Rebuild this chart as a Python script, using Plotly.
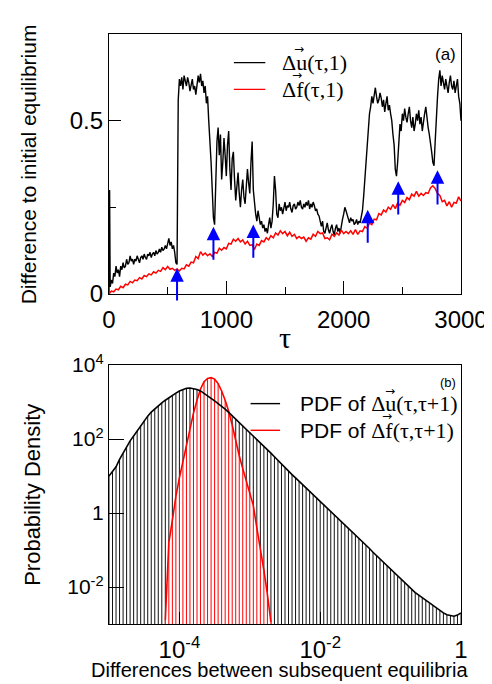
import plotly.graph_objects as go

# ---------------- panel (a) data ----------------
tau_u = [0, 5] + list(range(10, 3001, 10))
du_1 = [0.0, 0.30,
        0.02, 0.04, 0.03, 0.06, 0.05, 0.08, 0.06, 0.07, 0.05, 0.08,
        0.07, 0.09, 0.075, 0.08, 0.10, 0.085, 0.09, 0.11, 0.095, 0.10,
        0.085, 0.10, 0.095, 0.11, 0.10, 0.09, 0.105, 0.11, 0.10, 0.115,
        0.105, 0.10, 0.115, 0.11, 0.12, 0.105, 0.115, 0.12, 0.11, 0.125,
        0.115, 0.12, 0.13, 0.12, 0.135, 0.125, 0.13, 0.14, 0.13, 0.15,
        0.16, 0.14, 0.15, 0.13, 0.14, 0.12, 0.09, 0.085, 0.56, 0.62,
        0.60, 0.625, 0.59, 0.63, 0.61, 0.60, 0.625, 0.61, 0.585, 0.60,
        0.62, 0.59, 0.60, 0.575, 0.60, 0.63, 0.61, 0.635, 0.60, 0.615,
        0.58, 0.60, 0.55, 0.57, 0.50, 0.45, 0.38, 0.30, 0.22, 0.20,
        0.35, 0.44, 0.48, 0.40, 0.46, 0.33, 0.38, 0.45, 0.40, 0.34,
        0.43, 0.47, 0.36, 0.30, 0.39, 0.41, 0.33, 0.27, 0.31, 0.35,
        0.29, 0.25, 0.30, 0.33, 0.28, 0.26, 0.31, 0.36, 0.32, 0.29,
        0.38, 0.44, 0.30, 0.25, 0.23, 0.21, 0.24, 0.22, 0.20, 0.21,
        0.19, 0.20, 0.18, 0.19, 0.175, 0.20, 0.22, 0.19, 0.21, 0.26,
        0.34, 0.30, 0.23, 0.22, 0.26, 0.24, 0.25, 0.23, 0.25, 0.265,
        0.24, 0.255, 0.25, 0.265, 0.245, 0.235, 0.255, 0.26, 0.245, 0.25,
        0.265, 0.255, 0.27, 0.25, 0.245, 0.26, 0.25, 0.265, 0.255, 0.27,
        0.245, 0.26, 0.25, 0.265, 0.255, 0.24, 0.245, 0.23, 0.225, 0.21,
        0.195, 0.21, 0.18, 0.175, 0.19, 0.205, 0.185, 0.175, 0.19, 0.20,
        0.18, 0.17, 0.19, 0.20, 0.18, 0.19, 0.175, 0.20, 0.215, 0.23,
        0.25, 0.24, 0.225, 0.215, 0.205, 0.22, 0.21, 0.215, 0.20, 0.205,
        0.215, 0.20, 0.21, 0.205, 0.22, 0.24, 0.28, 0.33, 0.38, 0.43,
        0.49, 0.52, 0.54, 0.57, 0.55, 0.58, 0.595, 0.57, 0.55, 0.56,
        0.58, 0.565, 0.54, 0.56, 0.525, 0.55, 0.57, 0.53, 0.545, 0.52,
        0.50, 0.46, 0.43, 0.36, 0.34, 0.38, 0.45, 0.49, 0.47, 0.52,
        0.50, 0.535, 0.51, 0.495, 0.52, 0.54, 0.50, 0.48, 0.51, 0.47,
        0.49, 0.52, 0.50, 0.53, 0.49, 0.51, 0.47, 0.50, 0.52, 0.54,
        0.50, 0.48, 0.46, 0.44, 0.41, 0.38, 0.37, 0.44, 0.52, 0.57,
        0.62, 0.645, 0.60, 0.63, 0.61, 0.59, 0.62, 0.60, 0.58, 0.61,
        0.63, 0.60, 0.59, 0.615, 0.58, 0.60, 0.62, 0.57, 0.55, 0.50]

tau_f = list(range(0, 3001, 20))
df_1 = [0.0, 0.008, 0.006, 0.014, 0.012, 0.022, 0.018, 0.028, 0.026, 0.036,
        0.032, 0.040, 0.038, 0.047, 0.043, 0.053, 0.050, 0.058, 0.055, 0.064,
        0.060, 0.068, 0.065, 0.076, 0.070, 0.079, 0.071, 0.074, 0.068, 0.072,
        0.066, 0.074, 0.072, 0.084, 0.080, 0.092, 0.090, 0.108, 0.102, 0.122,
        0.112, 0.118, 0.110, 0.116, 0.108, 0.120, 0.117, 0.132, 0.126, 0.134,
        0.130, 0.146, 0.144, 0.158, 0.152, 0.160, 0.150, 0.156, 0.144, 0.152,
        0.140, 0.142, 0.128, 0.144, 0.140, 0.154, 0.150, 0.162, 0.156, 0.168,
        0.162, 0.176, 0.170, 0.182, 0.174, 0.180, 0.168, 0.178, 0.166, 0.172,
        0.160, 0.166, 0.160, 0.164, 0.152, 0.162, 0.158, 0.172, 0.166, 0.180,
        0.174, 0.176, 0.160, 0.162, 0.156, 0.172, 0.166, 0.176, 0.170, 0.184,
        0.174, 0.180, 0.174, 0.182, 0.172, 0.186, 0.172, 0.182, 0.180, 0.194,
        0.190, 0.204, 0.200, 0.216, 0.214, 0.232, 0.228, 0.242, 0.236, 0.250,
        0.244, 0.258, 0.246, 0.262, 0.256, 0.270, 0.264, 0.278, 0.272, 0.288,
        0.282, 0.296, 0.282, 0.290, 0.284, 0.292, 0.290, 0.306, 0.312, 0.304,
        0.290, 0.284, 0.266, 0.270, 0.254, 0.266, 0.250, 0.264, 0.262, 0.280,
        0.268]

arrow_tau = [580, 890, 1230, 2205, 2465, 2800]
arrow_head = [0.074, 0.194, 0.200, 0.243, 0.325, 0.357]
arrow_tail = [-0.023, 0.094, 0.100, 0.143, 0.225, 0.254]

# ---------------- panel (b) data ----------------
# log10 bin centres and log10 probability densities
logx_u = [-5 + 0.05 * k for k in range(101)]
logpdf_u = [1.00, 1.12, 1.25, 1.45, 1.62, 1.78, 1.95, 2.08, 2.22, 2.36,
            2.50, 2.62, 2.73, 2.82, 2.90, 2.98, 3.05, 3.12, 3.18, 3.24,
            3.30, 3.34, 3.37, 3.38, 3.37, 3.34, 3.30, 3.24, 3.17, 3.10,
            3.03, 2.96, 2.89, 2.81, 2.72, 2.63, 2.54, 2.45, 2.36, 2.27,
            2.18, 2.09, 2.00, 1.90, 1.81, 1.71, 1.62, 1.52, 1.42, 1.33,
            1.23, 1.14, 1.04, 0.95, 0.86, 0.77, 0.68, 0.59, 0.50, 0.41,
            0.32, 0.23, 0.14, 0.05, -0.04, -0.13, -0.22, -0.31, -0.40, -0.50,
            -0.59, -0.68, -0.78, -0.87, -0.96, -1.06, -1.15, -1.25, -1.34, -1.43,
            -1.52, -1.61, -1.71, -1.80, -1.89, -1.98, -2.07, -2.15, -2.22, -2.29,
            -2.36, -2.44, -2.50, -2.57, -2.63, -2.70, -2.75, -2.78, -2.79, -2.76,
            -2.70]
logx_f = [-4.20 + 0.05 * j for j in range(31)]
logpdf_f = [-2.9, -0.8, -0.2, 0.45, 0.95, 1.40, 1.85, 2.25, 2.70, 3.05,
            3.35, 3.55, 3.64, 3.66, 3.62, 3.50, 3.30, 3.05, 2.75, 2.38,
            1.95, 1.55, 1.20, 0.88, 0.55, 0.20, -0.40, -0.95, -1.55, -2.20,
            -2.95]

ytick_b = [1e-2, 1, 1e2, 1e4]
ytick_b_text = ["10<sup>-2</sup>", "1", "10<sup>2</sup>", "10<sup>4</sup>"]
xtick_b = [1e-4, 1e-2, 1]
xtick_b_text = ["10<sup>-4</sup>", "10<sup>-2</sup>", "1"]

SANS = "Liberation Sans"
SERIF = "Liberation Serif"

xu = [10 ** v for v in logx_u]
yu = [10 ** v for v in logpdf_u]
xf = [10 ** v for v in logx_f]
yf = [10 ** v for v in logpdf_f]
floor = 1e-4


def segments(xs, ys):
    sx, sy = [], []
    for a, b in zip(xs, ys):
        sx += [a, a, None]
        sy += [floor, b, None]
    return sx, sy


fig = go.Figure()

# panel a
fig.add_trace(go.Scatter(x=tau_u, y=du_1, mode="lines",
                         line=dict(color="black", width=1.4),
                         xaxis="x", yaxis="y", showlegend=False))
fig.add_trace(go.Scatter(x=tau_f, y=df_1, mode="lines",
                         line=dict(color="red", width=1.5),
                         xaxis="x", yaxis="y", showlegend=False))

# panel b
bx, by = segments(xu, yu)
fig.add_trace(go.Scatter(x=bx, y=by, mode="lines",
                         line=dict(color="#111111", width=1),
                         xaxis="x2", yaxis="y2", showlegend=False))
fig.add_trace(go.Scatter(x=xf + xf[::-1], y=yf + [floor] * len(xf),
                         mode="lines", fill="toself", fillcolor="white",
                         line=dict(width=0, color="white"),
                         xaxis="x2", yaxis="y2", showlegend=False))
rx, ry = segments(xf, yf)
fig.add_trace(go.Scatter(x=rx, y=ry, mode="lines",
                         line=dict(color="red", width=1),
                         xaxis="x2", yaxis="y2", showlegend=False))
fig.add_trace(go.Scatter(x=xf, y=yf, mode="lines",
                         line=dict(color="red", width=1.6),
                         xaxis="x2", yaxis="y2", showlegend=False))
fig.add_trace(go.Scatter(x=xu, y=yu, mode="lines",
                         line=dict(color="black", width=1.6),
                         xaxis="x2", yaxis="y2", showlegend=False))

annotations = []
for t, h, tl in zip(arrow_tau, arrow_head, arrow_tail):
    annotations.append(dict(x=t, y=h, ax=t, ay=tl, xref="x", yref="y",
                            axref="x", ayref="y", showarrow=True, text="",
                            arrowhead=2, arrowsize=1.35, arrowwidth=2,
                            arrowcolor="blue", standoff=0))

# pixel helpers for text placement (plot area: x 101-459, a: 19-282, b: 354-616)
def dxa(px):
    return (px - 101) / 358


def dya(py):
    return (282 - py) / 263


def dyb(py):
    return (616 - py) / 262


shapes = [
    dict(type="line", xref="x domain", yref="y domain", x0=dxa(228), x1=dxa(260),
         y0=dya(48), y1=dya(48), line=dict(color="black", width=1.4)),
    dict(type="line", xref="x domain", yref="y domain", x0=dxa(228), x1=dxa(260),
         y0=dya(75), y1=dya(75), line=dict(color="red", width=1.4)),
    dict(type="line", xref="x2 domain", yref="y2 domain", x0=dxa(245), x1=dxa(275),
         y0=dyb(393), y1=dyb(393), line=dict(color="black", width=1.4)),
    dict(type="line", xref="x2 domain", yref="y2 domain", x0=dxa(245), x1=dxa(275),
         y0=dyb(420), y1=dyb(420), line=dict(color="red", width=1.4)),
]


def vec_arrow(xref, yref, x, y):
    return dict(xref=xref, yref=yref, x=x, y=y, xanchor="center",
                yanchor="middle", showarrow=False, text="→",
                font=dict(family="DejaVu Sans", size=12, color="black"))


annotations += [
    dict(xref="x domain", yref="y domain", x=dxa(275), y=dya(48), xanchor="left",
         yanchor="middle", showarrow=False, text="Δu(τ,1)",
         font=dict(family=SERIF, size=22, color="black")),
    dict(xref="x domain", yref="y domain", x=dxa(275), y=dya(75), xanchor="left",
         yanchor="middle", showarrow=False, text="Δf(τ,1)",
         font=dict(family=SERIF, size=22, color="black")),
    vec_arrow("x domain", "y domain", dxa(294), dya(34)),
    vec_arrow("x domain", "y domain", dxa(292), dya(60)),
    dict(xref="x domain", yref="y domain", x=dxa(443), y=dya(40), xanchor="center",
         yanchor="middle", showarrow=False, text="(a)",
         font=dict(family=SANS, size=17, color="black")),
    dict(xref="x2 domain", yref="y2 domain", x=dxa(293), y=dyb(393), xanchor="left",
         yanchor="middle", showarrow=False,
         text='PDF of <span style="font-family:Liberation Serif;font-size:22px">Δu(τ,τ+1)</span>',
         font=dict(family=SANS, size=21, color="black")),
    dict(xref="x2 domain", yref="y2 domain", x=dxa(293), y=dyb(420), xanchor="left",
         yanchor="middle", showarrow=False,
         text='PDF of <span style="font-family:Liberation Serif;font-size:22px">Δf(τ,τ+1)</span>',
         font=dict(family=SANS, size=21, color="black")),
    vec_arrow("x2 domain", "y2 domain", dxa(387), dyb(380)),
    vec_arrow("x2 domain", "y2 domain", dxa(384), dyb(406)),
    dict(xref="x2 domain", yref="y2 domain", x=dxa(446), y=dyb(372), xanchor="center",
         yanchor="middle", showarrow=False, text="(b)",
         font=dict(family=SANS, size=13, color="black")),
    # axis titles
    dict(xref="paper", yref="y domain", x=dxa(20), y=0.5, xanchor="center",
         yanchor="middle", showarrow=False, textangle=-90,
         text="Difference to initial equilibrium",
         font=dict(family=SANS, size=21, color="black")),
    dict(xref="paper", yref="y2 domain", x=dxa(23), y=0.5, xanchor="center",
         yanchor="middle", showarrow=False, textangle=-90,
         text="Probability Density",
         font=dict(family=SANS, size=22, color="black")),
    dict(xref="x domain", yref="paper", x=0.5, y=(616 - 326) / 597,
         xanchor="center", yanchor="middle", showarrow=False, text="τ",
         font=dict(family=SERIF, size=30, color="black")),
    dict(xref="paper", yref="paper", x=dxa(274), y=(616 - 663) / 597,
         xanchor="center", yanchor="middle", showarrow=False,
         text="Differences between subsequent equilibria",
         font=dict(family=SANS, size=20, color="black")),
]

axis_common = dict(showline=True, linecolor="black", linewidth=1.3,
                   mirror=True, showgrid=False, zeroline=False,
                   ticks="inside", tickcolor="black", tickwidth=1.3)

fig.update_layout(
    width=492, height=684,
    margin=dict(l=101, r=33, t=19, b=68),
    paper_bgcolor="white", plot_bgcolor="white",
    showlegend=False,
    xaxis=dict(domain=[0, 1], range=[0, 3000], anchor="y",
               tickvals=[0, 1000, 2000, 3000], ticklen=13,
               minor=dict(tickvals=[500, 1500, 2500], ticklen=7,
                          ticks="inside", tickcolor="black", tickwidth=1.3),
               tickfont=dict(family=SANS, size=24, color="black"),
               ticklabelstandoff=4, **axis_common),
    yaxis=dict(domain=[(616 - 282) / 597, 1.0], range=[0, 0.75], anchor="x",
               tickvals=[0, 0.5], ticktext=["0", "0.5"], ticklen=12,
               minor=dict(tickvals=[0.25], ticklen=7, ticks="inside",
                          tickcolor="black", tickwidth=1.3),
               tickfont=dict(family=SANS, size=24, color="black"),
               **axis_common),
    xaxis2=dict(domain=[0, 1], type="log", range=[-5, 0], anchor="y2",
                tickvals=xtick_b, ticktext=xtick_b_text, ticklen=12,
                tickfont=dict(family=SANS, size=24, color="black"),
                ticklabelstandoff=4, **axis_common),
    yaxis2=dict(domain=[0, (616 - 354) / 597], type="log", range=[-3, 4],
                anchor="x2", tickvals=ytick_b, ticktext=ytick_b_text,
                ticklen=15,
                tickfont=dict(family=SANS, size=21, color="black"),
                **axis_common),
    shapes=shapes,
    annotations=annotations,
)

fig.write_html("out.html")
